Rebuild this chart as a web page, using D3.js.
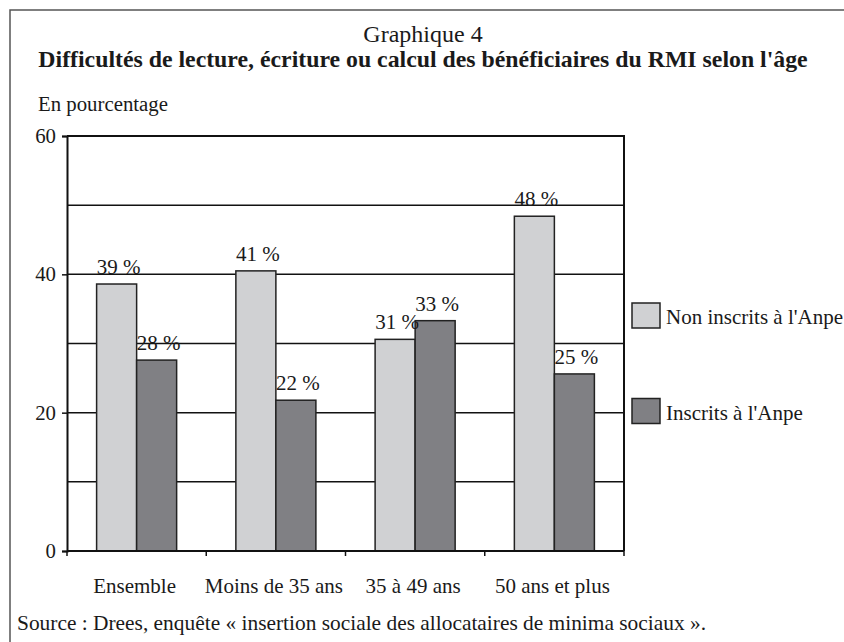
<!DOCTYPE html>
<html>
<head>
<meta charset="utf-8">
<script src="https://cdn.jsdelivr.net/npm/d3@7"></script>
<style>
  body { margin: 0; background: #fff; }
  svg text { font-family: "Liberation Serif", "Times New Roman", serif; fill: #1a1a1a; }
</style>
</head>
<body>
<div id="chart"></div>
<script>
// data
var categories = ["Ensemble", "Moins de 35 ans", "35 à 49 ans", "50 ans et plus"];
var series = ["Non inscrits à l'Anpe", "Inscrits à l'Anpe"];
var nonInscrits = [38.6, 40.5, 30.6, 48.4];
var inscrits = [27.6, 21.8, 33.3, 25.6];
var labelsNon = ["39 %", "41 %", "31 %", "48 %"];
var labelsIns = ["28 %", "22 %", "33 %", "25 %"];
var yTicks = [0, 20, 40, 60];
var gridTicks = [10, 20, 30, 40, 50];

var W = 844, H = 642;
var colors = ["#d0d1d3", "#808084"];

var svg = d3.select("#chart").append("svg")
    .attr("width", W)
    .attr("height", H);

// outer frame (runs off right and bottom edge)
svg.append("rect")
    .attr("x", 10).attr("y", 10)
    .attr("width", 860).attr("height", 660)
    .attr("fill", "none")
    .attr("stroke", "#555")
    .attr("stroke-width", 1.5);

// titles
svg.append("text")
    .attr("x", 423).attr("y", 42)
    .attr("text-anchor", "middle")
    .style("font-size", "24px")
    .text("Graphique 4");
svg.append("text")
    .attr("x", 423).attr("y", 67)
    .attr("text-anchor", "middle")
    .style("font-size", "23.8px")
    .style("font-weight", "bold")
    .text("Difficultés de lecture, écriture ou calcul des bénéficiaires du RMI selon l'âge");
svg.append("text")
    .attr("x", 38).attr("y", 111)
    .style("font-size", "20.8px")
    .text("En pourcentage");

var x0 = d3.scaleBand()
    .domain(categories)
    .range([67, 624]);
var x1 = d3.scaleBand()
    .domain(series)
    .range([0, x0.bandwidth()])
    .paddingOuter(0.74);
var y = d3.scaleLinear()
    .domain([0, 60])
    .range([551, 136]);

// grid lines
svg.selectAll(".grid")
    .data(gridTicks)
    .enter().append("line")
    .attr("class", "grid")
    .attr("x1", x0.range()[0]).attr("x2", x0.range()[1])
    .attr("y1", function(d) { return y(d); })
    .attr("y2", function(d) { return y(d); })
    .attr("stroke", "#111")
    .attr("stroke-width", 1.5);

// top and right frame of plot
svg.append("path")
    .attr("d", "M" + x0.range()[0] + "," + y(60) + "H" + x0.range()[1] + "V" + y(0))
    .attr("fill", "none")
    .attr("stroke", "#111")
    .attr("stroke-width", 2);

// bars
var rows = categories.map(function(c, i) {
    return { cat: c, vals: [nonInscrits[i], inscrits[i]], labs: [labelsNon[i], labelsIns[i]] };
});
var groups = svg.selectAll(".grp")
    .data(rows)
    .enter().append("g")
    .attr("class", "grp")
    .attr("transform", function(d) { return "translate(" + x0(d.cat) + ",0)"; });

groups.selectAll("rect")
    .data(function(d) { return d.vals.map(function(v, j) { return { s: series[j], v: v, j: j }; }); })
    .enter().append("rect")
    .attr("x", function(d) { return x1(d.s); })
    .attr("width", x1.bandwidth())
    .attr("y", function(d) { return y(d.v); })
    .attr("height", function(d) { return y(0) - y(d.v); })
    .attr("fill", function(d) { return colors[d.j]; })
    .attr("stroke", "#222")
    .attr("stroke-width", 1.5);

groups.selectAll(".lab")
    .data(function(d) { return d.vals.map(function(v, j) { return { s: series[j], v: v, t: d.labs[j] }; }); })
    .enter().append("text")
    .attr("class", "lab")
    .attr("x", function(d) { return x1(d.s) + x1.bandwidth() / 2 + 2; })
    .attr("y", function(d) { return y(d.v) - 10; })
    .attr("text-anchor", "middle")
    .style("font-size", "21px")
    .text(function(d) { return d.t; });

// y axis
var yAxis = svg.append("g")
    .attr("transform", "translate(" + x0.range()[0] + ",0)")
    .call(d3.axisLeft(y).tickValues(yTicks).tickSize(5).tickPadding(6));
yAxis.select(".domain").attr("stroke", "#111").attr("stroke-width", 2);
yAxis.selectAll(".tick line").attr("stroke", "#111").attr("stroke-width", 1.5);
yAxis.selectAll("text")
    .style("font-size", "20.8px")
    .attr("fill", "#1a1a1a");

// x axis: ticks on category boundaries
var xAxisG = svg.append("g");
xAxisG.append("line")
    .attr("x1", x0.range()[0]).attr("x2", x0.range()[1])
    .attr("y1", y(0)).attr("y2", y(0))
    .attr("stroke", "#111").attr("stroke-width", 2);
var bounds = categories.map(function(c) { return x0(c); }).concat([x0.range()[1]]);
xAxisG.selectAll(".xt")
    .data(bounds)
    .enter().append("line")
    .attr("class", "xt")
    .attr("x1", function(d) { return d; }).attr("x2", function(d) { return d; })
    .attr("y1", y(0)).attr("y2", y(0) + 5)
    .attr("stroke", "#111").attr("stroke-width", 1.5);
xAxisG.selectAll(".xl")
    .data(categories)
    .enter().append("text")
    .attr("class", "xl")
    .attr("x", function(d) { return x0(d) + x0.bandwidth() / 2 - 2; })
    .attr("y", 593)
    .attr("text-anchor", "middle")
    .style("font-size", "21px")
    .text(function(d) { return d; });

// legend
var legend = svg.selectAll(".leg")
    .data(series)
    .enter().append("g")
    .attr("class", "leg")
    .attr("transform", function(d, i) { return "translate(632," + (303 + i * 95.5) + ")"; });
legend.append("rect")
    .attr("width", 28).attr("height", 25)
    .attr("fill", function(d, i) { return colors[i]; })
    .attr("stroke", "#222")
    .attr("stroke-width", 1.5);
legend.append("text")
    .attr("x", 34).attr("y", 21)
    .style("font-size", "21px")
    .text(function(d) { return d; });

// source
svg.append("text")
    .attr("x", 17).attr("y", 630)
    .style("font-size", "21.4px")
    .text("Source : Drees, enquête « insertion sociale des allocataires de minima sociaux ».");
</script>
</body>
</html>
